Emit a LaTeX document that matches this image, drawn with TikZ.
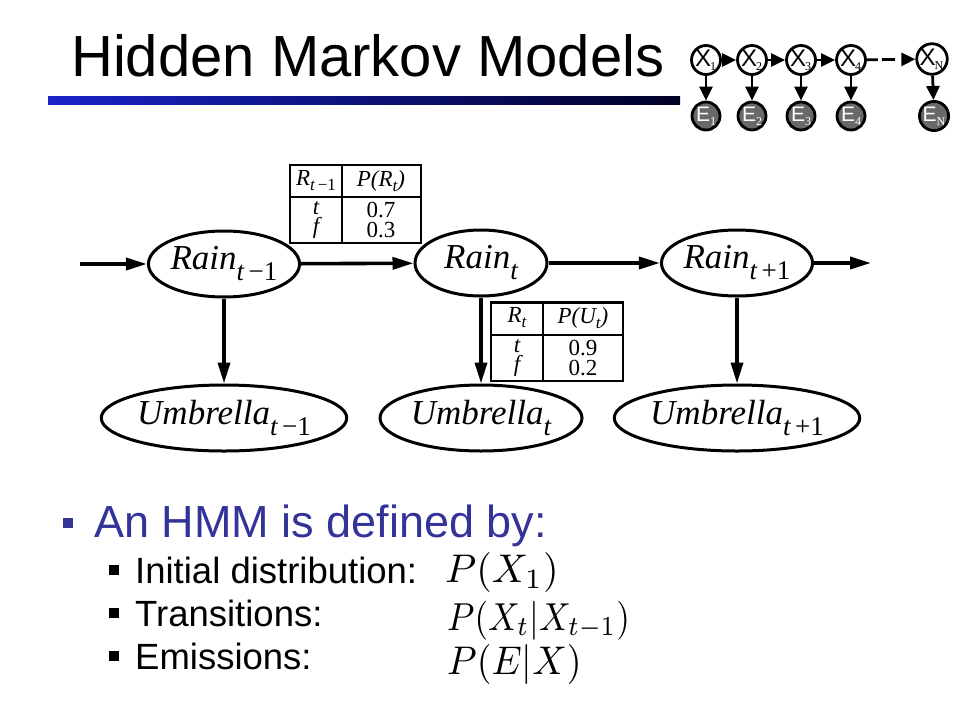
\documentclass[tikz,border=0pt]{standalone}
\usepackage{graphicx}
\usepackage{fontspec}
\newfontfamily\arialf{Liberation Sans}
\newfontfamily\tmsf{Liberation Serif}
\usetikzlibrary{arrows.meta,shapes.geometric}
\definecolor{bulletblue}{RGB}{51,51,153}
\definecolor{barblue}{RGB}{25,35,200}
\definecolor{egray}{RGB}{105,105,105}
\newcommand\elab[2]{{\tmsf\itshape\fontsize{35}{35}\selectfont #1}\raisebox{-11pt}{\tmsf\itshape\fontsize{27}{27}\selectfont #2}}
\newcommand\tsub[2]{{\tmsf\itshape\fontsize{23}{23}\selectfont #1}\raisebox{-5pt}{\tmsf\itshape\fontsize{17}{17}\selectfont #2}}
\newcommand\xl[2]{\hspace*{-1pt}{\arialf\fontsize{24}{24}\selectfont #1}\hspace*{-1pt}\raisebox{-4pt}{\tmsf\fontsize{12}{12}\selectfont #2}}
\newcommand\elb[2]{{\arialf\fontsize{21}{21}\selectfont #1}\raisebox{-4pt}{\tmsf\fontsize{12}{12}\selectfont #2}}
\begin{document}
\begin{tikzpicture}[x=1pt,y=-1pt,
  rainnode/.style={ellipse,draw,line width=3pt,minimum width=132pt,minimum height=66pt,inner sep=0pt},
  umbnode/.style={ellipse,draw,line width=3pt,minimum width=202pt,minimum height=66pt,inner sep=0pt},
  bigarrow/.style={line width=3.6pt,-{Triangle[length=21pt,width=12pt]}},
  tblline/.style={line width=2pt},
  tbltxt/.style={inner sep=0pt,align=center,font=\tmsf\fontsize{23}{19.5}\selectfont},
  xnode/.style={circle,draw,line width=2.8pt,fill=white,minimum size=29pt,inner sep=0pt},
  enode/.style={circle,draw,line width=2.8pt,fill=egray,text=white,minimum size=28pt,inner sep=0pt},
  smallarrow/.style={line width=2.8pt,-{Triangle[length=14pt,width=13pt]}},
  bulletsq/.style={inner sep=0pt,minimum size=10pt},
  subsq/.style={fill=black,inner sep=0pt,minimum size=9.5pt},
  linetxt/.style={anchor=base west,inner sep=0pt}
]
\useasboundingbox (0,0) rectangle (960,720);
\fill[white] (0,0) rectangle (960,720);

% title and bar
\node[linetxt] (title) at (71,76) {\arialf\fontsize{58}{58}\selectfont Hidden Markov Models};
\node[inner sep=0pt,minimum width=632pt,minimum height=8pt,left color=barblue,right color=black!85!blue] (bar) at (364,100) {};

% mini HMM
\foreach \n/\x/\s in {1/706/1,2/752/2,3/801/3,4/851/4}{
  \node[xnode] (x\n) at (\x,60) {\xl{X}{\s}};
  \node[enode] (e\n) at (\x,116) {\elb{E}{\s}};
  \draw[smallarrow] (x\n) -- (e\n);
}
\node[xnode] (xn) at (932,59) {\xl{X}{N}};
\node[enode] (en) at (934,116) {\elb{E}{N}};
\draw[smallarrow] (xn) -- (en);
\draw[smallarrow] (x1) -- (x2);
\draw[smallarrow] (x2) -- (x3);
\draw[smallarrow] (x3) -- (x4);
\draw[smallarrow,dash pattern=on 11pt off 4pt on 13pt off 7pt] (x4) -- (xn);

% main network
\coordinate (in) at (80,264);
\coordinate (out) at (871,263);
\node[rainnode] (r1) at (224,264) {\elab{Rain}{t\,\upshape−1}};
\node[rainnode] (r2) at (481,263) {\elab{Rain}{t}};
\node[rainnode] (r3) at (737,263) {\elab{Rain}{t\,\upshape+1}};
\node[umbnode] (u1) at (224,418) {\elab{Umbrella}{t\,\upshape−1}};
\node[umbnode] (u2) at (481,418) {\elab{Umbrella}{t}};
\node[umbnode] (u3) at (737,418) {\elab{Umbrella}{t\,\upshape+1}};
\draw[bigarrow] (in) -- (r1);
\draw[bigarrow] (r1) -- (r2);
\draw[bigarrow] (r2) -- (r3);
\draw[bigarrow] (r3) -- (out);
\draw[bigarrow] (r1) -- (u1);
\draw[bigarrow] (r2) -- (u2);
\draw[bigarrow] (r3) -- (u3);

% CPT 1
\fill[white] (290,165) rectangle (421,243);
\draw[tblline] (290,165) rectangle (421,243);
\draw[tblline] (290,197) -- (421,197);
\draw[tblline] (342,165) -- (342,243);
\node[tbltxt] (t1h1) at (316,181) {\tsub{R}{t\,\upshape−1}};
\node[tbltxt] (t1h2) at (381,181) {\tsub{P(R}{t}{\tmsf\itshape\fontsize{23}{23}\selectfont)}};
\node[tbltxt] (t1b1) at (316,220) {\itshape t\\\itshape f};
\node[tbltxt] (t1b2) at (381,220) {0.7\\0.3};

% CPT 2
\fill[white] (491,302) rectangle (623,381);
\draw[tblline] (491,302) rectangle (623,381);
\draw[line width=3pt] (491,302) -- (623,302);
\draw[tblline] (491,335) -- (623,335);
\draw[tblline] (543,302) -- (543,381);
\node[tbltxt] (t2h1) at (517,318) {\tsub{R}{t}};
\node[tbltxt] (t2h2) at (583,318) {\tsub{P(U}{t}{\tmsf\itshape\fontsize{23}{23}\selectfont)}};
\node[tbltxt] (t2b1) at (517,358) {\itshape t\\\itshape f};
\node[tbltxt] (t2b2) at (583,358) {0.9\\0.2};

% bullets
\node[bulletsq,fill=bulletblue] (b0) at (67.5,522.5) {};
\node[linetxt,text=bulletblue] (l0) at (94,537) {\arialf\fontsize{45}{45}\selectfont An HMM is defined by:};
\node[subsq] (b1) at (114,570) {};
\node[subsq] (b2) at (114,613) {};
\node[subsq] (b3) at (114,656) {};
\node[linetxt] (l1) at (135,583) {\arialf\fontsize{36.5}{36.5}\selectfont Initial distribution:};
\node[linetxt] (l2) at (135,626) {\arialf\fontsize{36.5}{36.5}\selectfont Transitions:};
\node[linetxt] (l3) at (135,669) {\arialf\fontsize{36.5}{36.5}\selectfont Emissions:};
\node[linetxt] (m1) at (445,582) {\scalebox{4}{$P(X_1)$}};
\node[linetxt] (m2) at (447,630) {\scalebox{3.5}[3.9]{$P(X_t|X_{t-1})$}};
\node[linetxt] (m3) at (447,674) {\scalebox{3.8}[4]{$P(E|X)$}};
\end{tikzpicture}
\end{document}
